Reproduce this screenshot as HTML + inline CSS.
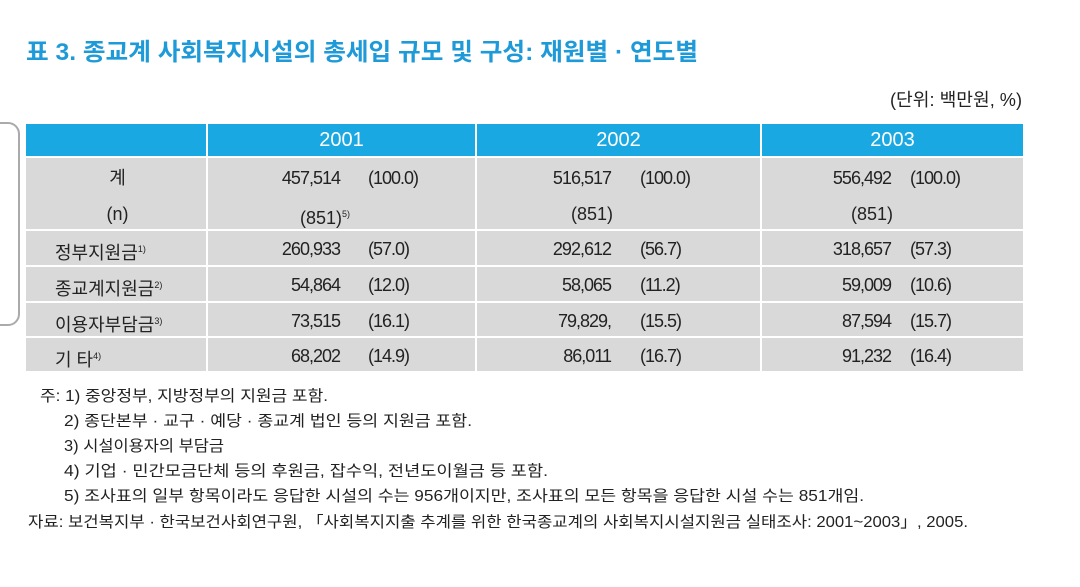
<!DOCTYPE html>
<html><head><meta charset="utf-8">
<style>
body{margin:0;width:1080px;height:587px;background:#fff;position:relative;overflow:hidden;font-family:"Liberation Sans","Noto Sans CJK KR",sans-serif;color:#222}
.a{position:absolute;white-space:nowrap;transform-origin:0 50%}
.cell{position:absolute;background:#d9d9d9}
.hd{position:absolute;background:#1aa8e2}
.t{font-size:18px;line-height:20px}
.n{font-size:15.5px;line-height:18px}
sup{font-size:9px;vertical-align:7px}
</style></head><body>
<div class="a" id="title" style="left:26px;top:38px;font-size:24px;font-weight:bold;color:#1e9ad8;line-height:30px">표 3. 종교계 사회복지시설의 총세입 규모 및 구성: 재원별 · 연도별</div>
<div class="a t" id="unit" style="left:890px;top:90px">(단위: 백만원, %)</div>
<div style="position:absolute;left:-20px;top:122px;width:36px;height:200px;border:2px solid #aaa;border-radius:12px"></div>

<div id="tbl"></div>

<div id="notes"></div>

<script>
const years=["2001","2002","2003"];
const rowLabels=["계","(n)","정부지원금","종교계지원금","이용자부담금","기 타"];
const rowSup=["","","1)","2)","3)","4)"];
const values2001=["457,514","","260,933","54,864","73,515","68,202"];
const values2002=["516,517","","292,612","58,065","79,829,","86,011"];
const values2003=["556,492","","318,657","59,009","87,594","91,232"];
const pct2001=["(100.0)","","(57.0)","(12.0)","(16.1)","(14.9)"];
const pct2002=["(100.0)","","(56.7)","(11.2)","(15.5)","(16.7)"];
const pct2003=["(100.0)","","(57.3)","(10.6)","(15.7)","(16.4)"];
const nVals=["(851)","(851)","(851)"];

const tbl=document.getElementById('tbl');
const colX=[26,208,477,762,1025];
const rowY=[124,158,231,267,303,338,373];
function add(html,cls,style,name){
  const d=document.createElement('div');
  d.className=cls;d.style.cssText=style;d.innerHTML=html;
  
  
  tbl.appendChild(d);return d;
}
// header cells
for(let c=0;c<4;c++){
  add(c?years[c-1]:"","hd",`left:${colX[c]}px;top:${rowY[0]}px;width:${colX[c+1]-colX[c]-2}px;height:${rowY[1]-rowY[0]-2}px;color:#fff;font-size:20px;line-height:${rowY[1]-rowY[0]-2}px;text-align:center`,"header-cell");
}
// body cells
for(let r=1;r<rowY.length-1;r++){
  for(let c=0;c<4;c++){
    add("","cell",`left:${colX[c]}px;top:${rowY[r]}px;width:${colX[c+1]-colX[c]-2}px;height:${rowY[r+1]-rowY[r]-2}px`,"body-cell");
  }
}
const vals=[values2001,values2002,values2003], pcts=[pct2001,pct2002,pct2003];
const numRight=[340,611,891], pctLeft=[368,640,910];
const lineY=[168,204,239,275,311,346];
for(let i=0;i<rowLabels.length;i++){
  const y=lineY[i];
  const lab=rowLabels[i]+(rowSup[i]?`<sup>${rowSup[i]}</sup>`:"");
  if(i<2) add(lab,"a t",`left:70px;width:95px;text-align:center;top:${y}px`,"row-label");
  else add(lab,"a t",`left:55px;top:${y}px`,"row-label");
  for(let c=0;c<3;c++){
    if(i===1){
      add(nVals[c]+(c===0?"<sup>5)</sup>":""),"a t",`left:${numRight[c]-40}px;top:${y}px`,"n-value");
    }else{
      add(vals[c][i],"a t",`left:${numRight[c]-110}px;width:110px;text-align:right;top:${y}px;letter-spacing:-1px`,"amount-value");
      add(pcts[c][i],"a t",`left:${pctLeft[c]}px;top:${y}px;letter-spacing:-1px`,"percent-value");
    }
  }
}
const notes=[
 [40,388,"주: 1) 중앙정부, 지방정부의 지원금 포함.",288],
 [64,413,"2) 종단본부 · 교구 · 예당 · 종교계 법인 등의 지원금 포함.",408],
 [64,438,"3) 시설이용자의 부담금",160],
 [64,463,"4) 기업 · 민간모금단체 등의 후원금, 잡수익, 전년도이월금 등 포함.",484],
 [64,488,"5) 조사표의 일부 항목이라도 응답한 시설의 수는 956개이지만, 조사표의 모든 항목을 응답한 시설 수는 851개임.",800],
 [28,514,"자료: 보건복지부 · 한국보건사회연구원, 「사회복지지출 추계를 위한 한국종교계의 사회복지시설지원금 실태조사: 2001~2003」, 2005.",940]
];
const nd=document.getElementById('notes');
const fits=[];
notes.forEach(n=>{
  const d=document.createElement('div');
  d.className='a n';d.style.left=n[0]+'px';d.style.top=n[1]+'px';d.textContent=n[2];
  
  
  nd.appendChild(d);fits.push([d,n[3]]);
});
fits.push([document.getElementById('title'),672]);
fits.push([document.getElementById('unit'),132]);
fits.forEach(([d,w])=>{const cw=d.getBoundingClientRect().width;if(cw>0)d.style.transform=`scaleX(${w/cw})`;});
</script>
</body></html>
